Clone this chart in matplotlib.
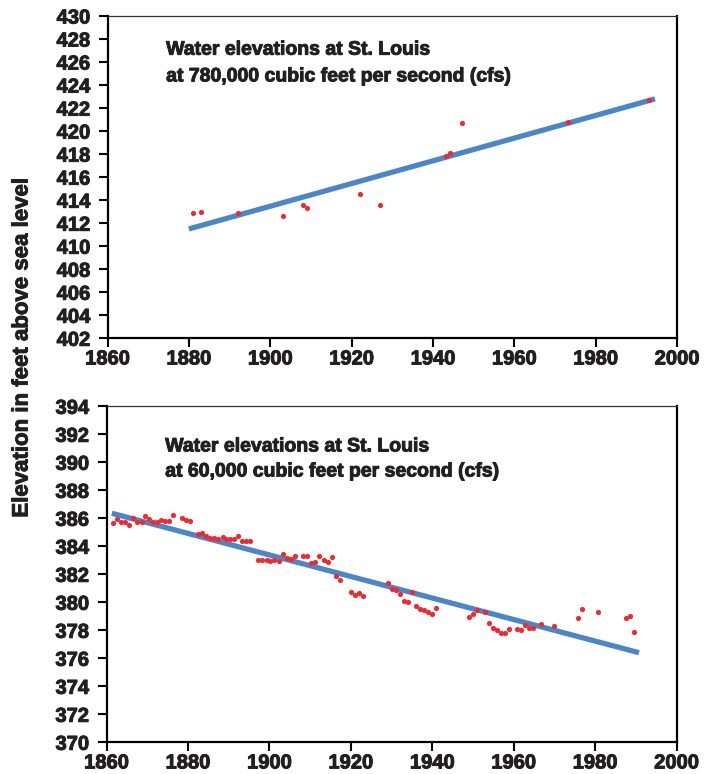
import matplotlib
matplotlib.use("Agg")
import matplotlib.pyplot as plt
import matplotlib.patheffects as pe

plt.rcParams['font.family'] = ['Liberation Sans', 'DejaVu Sans']
plt.rcParams['font.weight'] = 'bold'

# ---------------- data ----------------
# Top panel: 780,000 cfs
hi_years = [1881.1, 1883.0, 1892.1, 1903.1, 1908.1, 1909.1, 1922.1, 1927.1,
            1943.1, 1944.1, 1947.1, 1973.1, 1993.2]
hi_elev = [412.9, 413.0, 412.9, 412.65, 413.6, 413.3, 414.5, 413.6,
           417.8, 418.1, 420.7, 420.8, 422.7]
hi_trend_years = [1880.0, 1994.6]
hi_trend_elev = [411.5, 422.8]

# Bottom panel: 60,000 cfs
lo_years = [1861.6, 1862.6, 1863.6, 1864.5, 1865.5, 1866.5, 1867.6, 1868.6,
            1869.5, 1870.5, 1871.5, 1872.5, 1873.5, 1874.4, 1875.4, 1876.4,
            1878.6, 1879.5, 1880.5,
            1882.4, 1883.5, 1884.4, 1885.4, 1886.4, 1887.5, 1888.5, 1889.4,
            1890.4, 1891.4, 1892.4, 1893.4, 1894.3, 1895.3,
            1897.3, 1898.3, 1899.3, 1900.2, 1901.2, 1902.3, 1903.3, 1904.3,
            1905.3, 1906.3, 1908.3, 1909.3, 1910.3, 1911.3, 1912.3, 1913.3,
            1914.3, 1915.3, 1916.4, 1917.4,
            1920.1, 1921.1, 1922.1, 1923.1,
            1929.1, 1930.1, 1931.1, 1932.0, 1933.1, 1934.1, 1935.1, 1936.0,
            1937.0, 1938.0, 1939.0, 1940.0, 1941.0,
            1949.0, 1950.0, 1951.0, 1953.0, 1953.9, 1954.9, 1955.9, 1956.9,
            1957.8, 1958.8, 1960.9, 1961.8, 1962.8, 1963.8, 1964.8, 1966.8,
            1969.8, 1975.8, 1976.8, 1980.7, 1987.6, 1988.6, 1989.6]
lo_elev = [385.66, 385.95, 385.74, 385.74, 385.54, 386.02, 385.71, 385.71,
           386.19, 385.97, 385.74, 385.74, 385.90, 385.81, 385.81, 386.26,
           386.02, 385.88, 385.81,
           384.90, 384.95, 384.76, 384.59, 384.59, 384.54, 384.69, 384.54,
           384.54, 384.54, 384.71, 384.38, 384.38, 384.38,
           383.00, 383.04, 383.04, 382.93, 383.02, 382.95, 383.45, 383.19,
           383.09, 383.31, 383.31, 383.31, 382.83, 382.88, 383.29, 383.04,
           382.88, 383.24, 381.88, 381.59,
           380.71, 380.52, 380.64, 380.43,
           381.38, 380.95, 380.90, 380.57, 380.09, 380.04, 380.71, 379.76,
           379.52, 379.47, 379.29, 379.19, 379.59,
           378.97, 379.16, 379.45, 379.29, 378.54, 378.16, 378.04, 377.81,
           377.81, 378.07, 378.07, 378.00, 378.36, 378.16, 378.16, 378.47,
           378.33, 378.90, 379.54, 379.29, 378.88, 379.00, 377.86]
lo_trend_years = [1861.3, 1990.8]
lo_trend_elev = [386.36, 376.4]

x_ticks = [1860, 1880, 1900, 1920, 1940, 1960, 1980, 2000]
hi_yticks = list(range(402, 431, 2))
lo_yticks = list(range(370, 395, 2))

hi_title = ["Water elevations at St. Louis", "at 780,000 cubic feet per second (cfs)"]
lo_title = ["Water elevations at St. Louis", "at 60,000 cubic feet per second (cfs)"]
ylabel = "Elevation in feet above sea level"

# ---------------- style ----------------
TXT = '#231f20'
BLUE = '#4a86c8'
RED = '#ee2a30'
THICK = [pe.withStroke(linewidth=0.7, foreground=TXT)]

W, H = 712, 774
fig = plt.figure(figsize=(W / 100, H / 100), dpi=100)


def px_axes(left, top, right, bottom):
    return fig.add_axes([left / W, 1 - bottom / H, (right - left) / W, (bottom - top) / H])


def style(ax, ylim, yticks):
    ax.set_xlim(1860, 2000)
    ax.set_ylim(*ylim)
    ax.set_xticks(x_ticks)
    ax.set_yticks(yticks)
    for s in ['left', 'bottom', 'right']:
        ax.spines[s].set_linewidth(1.6)
        ax.spines[s].set_color('black')
    ax.spines['top'].set_linewidth(0.9)
    ax.spines['top'].set_color('#333333')
    ax.tick_params(direction='out', length=6.5, width=1.5, color='black',
                   labelsize=14.5, labelcolor=TXT)
    ax.tick_params(axis='y', pad=6)
    ax.tick_params(axis='x', pad=1.5)
    for lab in ax.get_xticklabels() + ax.get_yticklabels():
        lab.set_fontweight('bold')
        lab.set_path_effects(THICK)


def title(ax, lines, ys):
    for line, y in zip(lines, ys):
        ax.text(0.103, y, line, transform=ax.transAxes, fontsize=14,
                fontweight='bold', color=TXT, va='center', ha='left',
                path_effects=THICK)


ax1 = px_axes(107.5, 16, 677, 338.3)
ax1.plot(hi_trend_years, hi_trend_elev, color=BLUE, lw=3.8, solid_capstyle='butt', zorder=2)
ax1.scatter(hi_years, hi_elev, s=14, color=RED, zorder=3, linewidths=0)
style(ax1, (402, 430), hi_yticks)
title(ax1, hi_title, [0.894, 0.811])

ax2 = px_axes(106.5, 406.3, 676.5, 742.3)
ax2.plot(lo_trend_years, lo_trend_elev, color=BLUE, lw=3.8, solid_capstyle='butt', zorder=2)
ax2.scatter(lo_years, lo_elev, s=14, color=RED, zorder=3, linewidths=0)
style(ax2, (370, 394), lo_yticks)
title(ax2, lo_title, [0.879, 0.8045])

fig.text(22 / W, 1 - 348 / H, ylabel, rotation=90, fontsize=16, fontweight='bold',
         color=TXT, ha='center', va='center', path_effects=THICK)

fig.savefig('out.png', dpi=100)
